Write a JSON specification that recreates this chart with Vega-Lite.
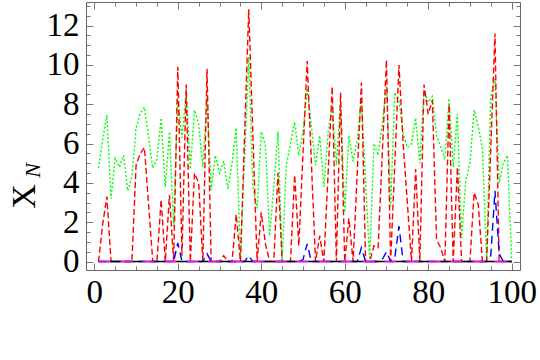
{
"$schema":"https://vega.github.io/schema/vega-lite/v6.json",
"width":434,"height":268,
"autosize":{"type":"none"},
"padding":{"left":86,"top":2,"right":20,"bottom":90},
"background":"white",
"data":{"values":[
{"t":1,"agreen":4.75,"bred":0,"cblue":0,"dblack":0,"emagenta":0},
{"t":2,"agreen":6.2,"bred":1.9,"cblue":0,"dblack":0,"emagenta":0},
{"t":3,"agreen":7.45,"bred":3.3,"cblue":0,"dblack":0,"emagenta":0},
{"t":4,"agreen":3.2,"bred":0,"cblue":0,"dblack":0,"emagenta":0},
{"t":5,"agreen":5.25,"bred":0,"cblue":0,"dblack":0,"emagenta":0},
{"t":6,"agreen":4.8,"bred":0,"cblue":0,"dblack":0,"emagenta":0},
{"t":7,"agreen":5.4,"bred":0,"cblue":0,"dblack":0,"emagenta":0},
{"t":8,"agreen":3.6,"bred":0,"cblue":0,"dblack":0,"emagenta":0},
{"t":9,"agreen":4.3,"bred":0,"cblue":0,"dblack":0,"emagenta":0},
{"t":10,"agreen":6.8,"bred":4.9,"cblue":0,"dblack":0,"emagenta":0},
{"t":11,"agreen":7.55,"bred":5.5,"cblue":0,"dblack":0,"emagenta":0},
{"t":12,"agreen":7.85,"bred":5.8,"cblue":0,"dblack":0,"emagenta":0},
{"t":13,"agreen":6.3,"bred":2.9,"cblue":0,"dblack":0,"emagenta":0},
{"t":14,"agreen":4.75,"bred":0,"cblue":0,"dblack":0,"emagenta":0},
{"t":15,"agreen":5.2,"bred":0,"cblue":0,"dblack":0,"emagenta":0},
{"t":16,"agreen":7.3,"bred":3.15,"cblue":0,"dblack":0,"emagenta":0},
{"t":17,"agreen":3.8,"bred":0,"cblue":0,"dblack":0,"emagenta":0},
{"t":18,"agreen":6.6,"bred":3.4,"cblue":0,"dblack":0,"emagenta":0},
{"t":19,"agreen":1.8,"bred":0,"cblue":0,"dblack":0,"emagenta":0},
{"t":20,"agreen":8.3,"bred":9.9,"cblue":0.95,"dblack":0,"emagenta":0},
{"t":21,"agreen":6.3,"bred":0.3,"cblue":0,"dblack":0,"emagenta":0},
{"t":22,"agreen":8.6,"bred":9.0,"cblue":0,"dblack":0,"emagenta":0},
{"t":23,"agreen":4.7,"bred":0,"cblue":0,"dblack":0,"emagenta":0},
{"t":24,"agreen":7.7,"bred":4.5,"cblue":0,"dblack":0,"emagenta":0},
{"t":25,"agreen":7.0,"bred":4.0,"cblue":0,"dblack":0,"emagenta":0},
{"t":26,"agreen":4.8,"bred":0,"cblue":0,"dblack":0,"emagenta":0},
{"t":27,"agreen":8.4,"bred":9.8,"cblue":0.4,"dblack":0,"emagenta":0},
{"t":28,"agreen":3.65,"bred":0,"cblue":0,"dblack":0,"emagenta":0},
{"t":29,"agreen":5.4,"bred":0,"cblue":0,"dblack":0,"emagenta":0},
{"t":30,"agreen":4.5,"bred":0,"cblue":0,"dblack":0,"emagenta":0},
{"t":31,"agreen":5.1,"bred":0.3,"cblue":0,"dblack":0,"emagenta":0},
{"t":32,"agreen":3.7,"bred":0,"cblue":0,"dblack":0,"emagenta":0},
{"t":33,"agreen":5.0,"bred":0,"cblue":0,"dblack":0,"emagenta":0},
{"t":34,"agreen":6.8,"bred":2.4,"cblue":0,"dblack":0,"emagenta":0},
{"t":35,"agreen":0.1,"bred":0,"cblue":0,"dblack":0,"emagenta":0},
{"t":36,"agreen":5.2,"bred":6.4,"cblue":0,"dblack":0,"emagenta":0},
{"t":37,"agreen":10.4,"bred":12.83,"cblue":0.3,"dblack":0,"emagenta":0},
{"t":38,"agreen":3.8,"bred":6.4,"cblue":0,"dblack":0,"emagenta":0},
{"t":39,"agreen":2.7,"bred":0,"cblue":0,"dblack":0,"emagenta":0},
{"t":40,"agreen":6.6,"bred":2.5,"cblue":0,"dblack":0,"emagenta":0},
{"t":41,"agreen":5.9,"bred":0.9,"cblue":0,"dblack":0,"emagenta":0},
{"t":42,"agreen":1.3,"bred":0,"cblue":0,"dblack":0,"emagenta":0},
{"t":43,"agreen":3.8,"bred":0,"cblue":0,"dblack":0,"emagenta":0},
{"t":44,"agreen":6.6,"bred":4.5,"cblue":0,"dblack":0,"emagenta":0},
{"t":45,"agreen":0.1,"bred":0,"cblue":0,"dblack":0,"emagenta":0},
{"t":46,"agreen":4.9,"bred":0,"cblue":0,"dblack":0,"emagenta":0},
{"t":47,"agreen":6.0,"bred":0,"cblue":0,"dblack":0,"emagenta":0},
{"t":48,"agreen":7.1,"bred":4.4,"cblue":0,"dblack":0,"emagenta":0},
{"t":49,"agreen":5.4,"bred":0.8,"cblue":0,"dblack":0,"emagenta":0},
{"t":50,"agreen":6.6,"bred":5.5,"cblue":0.1,"dblack":0,"emagenta":0},
{"t":51,"agreen":8.8,"bred":10.2,"cblue":0.9,"dblack":0,"emagenta":0},
{"t":52,"agreen":6.9,"bred":5.1,"cblue":0,"dblack":0,"emagenta":0},
{"t":53,"agreen":4.9,"bred":0,"cblue":0,"dblack":0,"emagenta":0},
{"t":54,"agreen":6.4,"bred":1.3,"cblue":0,"dblack":0,"emagenta":0},
{"t":55,"agreen":3.8,"bred":0,"cblue":0,"dblack":0,"emagenta":0},
{"t":56,"agreen":6.5,"bred":4.4,"cblue":0,"dblack":0,"emagenta":0},
{"t":57,"agreen":8.0,"bred":8.9,"cblue":0,"dblack":0,"emagenta":0},
{"t":58,"agreen":4.9,"bred":0,"cblue":0,"dblack":0,"emagenta":0},
{"t":59,"agreen":8.2,"bred":8.6,"cblue":0,"dblack":0,"emagenta":0},
{"t":60,"agreen":2.5,"bred":0,"cblue":0,"dblack":0,"emagenta":0},
{"t":61,"agreen":6.4,"bred":2.2,"cblue":0,"dblack":0,"emagenta":0},
{"t":62,"agreen":5.1,"bred":0,"cblue":0,"dblack":0,"emagenta":0},
{"t":63,"agreen":6.2,"bred":4.5,"cblue":0,"dblack":0,"emagenta":0},
{"t":64,"agreen":8.2,"bred":9.1,"cblue":0.7,"dblack":0,"emagenta":0},
{"t":65,"agreen":4.0,"bred":0,"cblue":0,"dblack":0,"emagenta":0},
{"t":66,"agreen":0.1,"bred":0,"cblue":0,"dblack":0,"emagenta":0},
{"t":67,"agreen":6.0,"bred":0.8,"cblue":0,"dblack":0,"emagenta":0},
{"t":68,"agreen":5.4,"bred":0.7,"cblue":0,"dblack":0,"emagenta":0},
{"t":69,"agreen":7.0,"bred":5.5,"cblue":0.1,"dblack":0,"emagenta":0},
{"t":70,"agreen":8.9,"bred":10.25,"cblue":0.5,"dblack":0,"emagenta":0},
{"t":71,"agreen":2.8,"bred":0,"cblue":0,"dblack":0,"emagenta":0},
{"t":72,"agreen":8.6,"bred":5.0,"cblue":0.2,"dblack":0,"emagenta":0},
{"t":73,"agreen":8.2,"bred":10.0,"cblue":1.8,"dblack":0,"emagenta":0},
{"t":74,"agreen":6.5,"bred":6.0,"cblue":0,"dblack":0,"emagenta":0},
{"t":75,"agreen":5.8,"bred":3.0,"cblue":0,"dblack":0,"emagenta":0},
{"t":76,"agreen":6.0,"bred":0,"cblue":0,"dblack":0,"emagenta":0},
{"t":77,"agreen":7.3,"bred":4.7,"cblue":0,"dblack":0,"emagenta":0},
{"t":78,"agreen":5.0,"bred":0,"cblue":0,"dblack":0,"emagenta":0},
{"t":79,"agreen":8.7,"bred":9.0,"cblue":0,"dblack":0,"emagenta":0},
{"t":80,"agreen":8.1,"bred":7.5,"cblue":0,"dblack":0,"emagenta":0},
{"t":81,"agreen":8.4,"bred":8.2,"cblue":0,"dblack":0,"emagenta":0},
{"t":82,"agreen":6.4,"bred":1.1,"cblue":0,"dblack":0,"emagenta":0},
{"t":83,"agreen":5.85,"bred":0.7,"cblue":0,"dblack":0,"emagenta":0},
{"t":84,"agreen":5.2,"bred":0,"cblue":0,"dblack":0,"emagenta":0},
{"t":85,"agreen":8.3,"bred":8.0,"cblue":0,"dblack":0,"emagenta":0},
{"t":86,"agreen":4.8,"bred":0,"cblue":0,"dblack":0,"emagenta":0},
{"t":87,"agreen":7.5,"bred":4.8,"cblue":0,"dblack":0,"emagenta":0},
{"t":88,"agreen":1.2,"bred":0,"cblue":0,"dblack":0,"emagenta":0},
{"t":89,"agreen":4.1,"bred":0,"cblue":0,"dblack":0,"emagenta":0},
{"t":90,"agreen":5.0,"bred":0,"cblue":0,"dblack":0,"emagenta":0},
{"t":91,"agreen":7.7,"bred":3.5,"cblue":0,"dblack":0,"emagenta":0},
{"t":92,"agreen":6.9,"bred":2.9,"cblue":0,"dblack":0,"emagenta":0},
{"t":93,"agreen":5.7,"bred":0,"cblue":0,"dblack":0,"emagenta":0},
{"t":94,"agreen":0.1,"bred":0,"cblue":0,"dblack":0,"emagenta":0},
{"t":95,"agreen":8.4,"bred":5.8,"cblue":0.3,"dblack":0,"emagenta":0},
{"t":96,"agreen":9.3,"bred":11.6,"cblue":3.6,"dblack":0,"emagenta":0},
{"t":97,"agreen":4.0,"bred":0,"cblue":0.4,"dblack":0,"emagenta":0},
{"t":98,"agreen":5.0,"bred":0,"cblue":0,"dblack":0,"emagenta":0},
{"t":99,"agreen":5.4,"bred":0,"cblue":0,"dblack":0,"emagenta":0},
{"t":100,"agreen":0.1,"bred":0,"cblue":0,"dblack":0,"emagenta":0}
]},
"transform":[{"fold":["agreen","bred","cblue","dblack","emagenta"],"as":["s","v"]}],
"resolve":{"axis":{"x":"independent","y":"independent"}},
"layer":[
{"transform":[{"filter":{"field":"s","oneOf":["agreen","bred","cblue"]}}],
 "mark":{"type":"line","strokeWidth":1.4,"clip":true},
 "encoding":{
  "x":{"field":"t","type":"quantitative","scale":{"domain":[-2,102],"nice":false,"zero":false},
       "axis":{"orient":"bottom","values":[0,20,40,60,80,100],"tickSize":-7,"labelPadding":13,"title":null,"labelFlush":false}},
  "y":{"field":"v","type":"quantitative","scale":{"domain":[-0.43,13.2],"nice":false,"zero":false},
       "axis":{"orient":"left","values":[0,2,4,6,8,10,12],"tickSize":-7,"labelPadding":14,"title":"X","titleFontSize":34,"titleAngle":270,"titleX":-52,"titleY":194,"titleAlign":"center","titleBaseline":"alphabetic"}},
  "color":{"field":"s","type":"nominal","scale":{"domain":["agreen","bred","cblue","dblack","emagenta"],"range":["#00ff00","#ff0000","#0000ff","#000000","#ff00ff"]},"legend":null},
  "strokeDash":{"field":"s","type":"nominal","scale":{"domain":["agreen","bred","cblue","dblack","emagenta"],"range":[[2,2],[6,3],[8,5],[1,0],[12,10]]},"legend":null}
 }},
{"transform":[{"filter":{"field":"s","equal":"dblack"}}],
 "mark":{"type":"line","strokeWidth":1.5,"color":"#000000","clip":true},
 "encoding":{
  "x":{"field":"t","type":"quantitative","axis":null},
  "y":{"field":"v","type":"quantitative","axis":null}
 }},
{"transform":[{"filter":{"field":"s","equal":"emagenta"}}],
 "mark":{"type":"line","strokeWidth":1.6,"color":"#ff00ff","strokeDash":[12,10],"clip":true},
 "encoding":{
  "x":{"field":"t","type":"quantitative","axis":null},
  "y":{"field":"v","type":"quantitative","axis":null}
 }},
{"mark":{"type":"point","opacity":0,"size":0},
 "encoding":{
  "x":{"field":"t","type":"quantitative","axis":{"orient":"top","values":[0,20,40,60,80,100],"tickSize":-7,"labels":false,"title":null}},
  "y":{"field":"v","type":"quantitative","axis":{"orient":"right","values":[0,2,4,6,8,10,12],"tickSize":-7,"labels":false,"title":null}}
 }},
{"mark":{"type":"point","opacity":0,"size":0},
 "encoding":{
  "x":{"field":"t","type":"quantitative","axis":{"orient":"bottom","values":[5,10,15,25,30,35,45,50,55,65,70,75,85,90,95],"tickSize":-4,"labels":false,"title":null}},
  "y":{"field":"v","type":"quantitative","axis":{"orient":"left","values":[0.5,1,1.5,2.5,3,3.5,4.5,5,5.5,6.5,7,7.5,8.5,9,9.5,10.5,11,11.5,12.5,13],"tickSize":-4,"labels":false,"title":"N","titleFontSize":22,"titleFontStyle":"italic","titleAngle":270,"titleX":-47,"titleY":168,"titleAlign":"center","titleBaseline":"alphabetic"}}
 }},
{"mark":{"type":"point","opacity":0,"size":0},
 "encoding":{
  "x":{"field":"t","type":"quantitative","axis":{"orient":"top","values":[5,10,15,25,30,35,45,50,55,65,70,75,85,90,95],"tickSize":-4,"labels":false,"title":null}},
  "y":{"field":"v","type":"quantitative","axis":{"orient":"right","values":[0.5,1,1.5,2.5,3,3.5,4.5,5,5.5,6.5,7,7.5,8.5,9,9.5,10.5,11,11.5,12.5,13],"tickSize":-4,"labels":false,"title":null}}
 }}
],
"config":{
 "view":{"stroke":"#666666","strokeWidth":1},
 "axis":{"grid":false,"domain":false,"tickColor":"#777777","tickWidth":1,"labelFont":"Liberation Serif","labelFontSize":33,"labelColor":"#000000","titleFont":"Liberation Serif","titleFontWeight":"normal","titleColor":"#000000"}
}
}
